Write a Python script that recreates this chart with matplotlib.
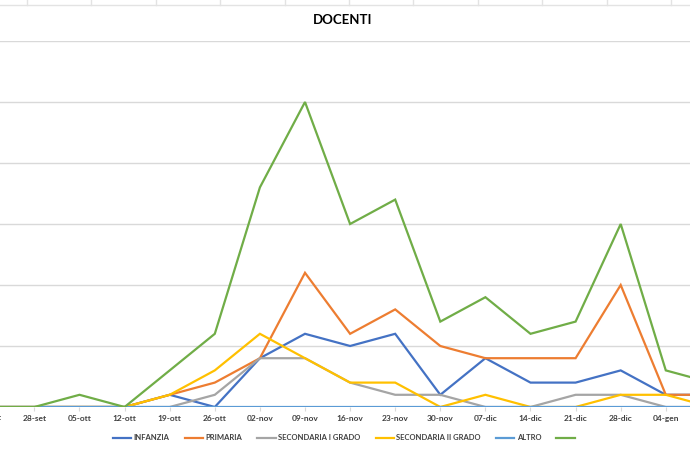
#!/usr/bin/env python3
"""
DOCENTI - weekly counts per school level, redrawn from an Excel line chart.

Usage:
    python plot.py
"""

import matplotlib

matplotlib.use("Agg")
import matplotlib.pyplot as plt
from matplotlib.lines import Line2D
from matplotlib.transforms import blended_transform_factory


# Data
WEEKS = [
    "21-set", "28-set", "05-ott", "12-ott", "19-ott", "26-ott", "02-nov",
    "09-nov", "16-nov", "23-nov", "30-nov", "07-dic", "14-dic", "21-dic",
    "28-dic", "04-gen", "11-gen",
]
INFANZIA = [0, 0, 0, 0, 1, 0, 4, 6, 5, 6, 1, 4, 2, 2, 3, 1, 1]
PRIMARIA = [0, 0, 0, 0, 1, 2, 4, 11, 6, 8, 5, 4, 4, 4, 10, 1, 1]
SEC_I_GRADO = [0, 0, 0, 0, 0, 1, 4, 4, 2, 1, 1, 0, 0, 1, 1, 0, 0]
SEC_II_GRADO = [0, 0, 0, 0, 1, 3, 6, 4, 2, 2, 0, 1, 0, 0, 1, 1, 0]
ALTRO = [0] * 17
TOTALE = [0, 0, 1, 0, 3, 6, 18, 25, 15, 17, 7, 9, 6, 7, 15, 3, 2]

SERIES = [
    ("INFANZIA", INFANZIA, "#4472C4"),
    ("PRIMARIA", PRIMARIA, "#ED7D31"),
    ("SECONDARIA I GRADO", SEC_I_GRADO, "#A5A5A5"),
    ("SECONDARIA II GRADO", SEC_II_GRADO, "#FFC000"),
    ("ALTRO", ALTRO, "#5B9BD5"),
    ("", TOTALE, "#70AD47"),
]

FONT = ["Lato", "DejaVu Sans"]
GRID = "#D9D9D9"
TEXT = "#404040"


def main():
    plt.rcParams["font.family"] = FONT

    fig = plt.figure(figsize=(6.9, 4.5), dpi=100)
    W, H = 690.0, 450.0

    # spreadsheet cells peeking above the chart
    fig.add_artist(Line2D([0, 1], [1 - 4.5 / H, 1 - 4.5 / H],
                          color="#E3E3E3", lw=1.0, transform=fig.transFigure))
    for k in range(11):
        xc = (27 + 64.4 * k) / W
        fig.add_artist(Line2D([xc, xc], [1, 1 - 4.5 / H],
                              color="#E3E3E3", lw=1.0, transform=fig.transFigure))

    # plot area is cut by the screenshot on both sides
    ax = fig.add_axes([0, 43 / H, 1, (407 - 41) / H])
    x = list(range(len(WEEKS)))

    handles = []
    labels = []
    for label, values, color in SERIES:
        (line,) = ax.plot(x, values, color=color, lw=1.6,
                          solid_joinstyle="miter", zorder=3)
        handles.append(line)
        labels.append(label)

    ax.set_xticks(x)
    ax.set_xticklabels(WEEKS, fontsize=6, fontweight="bold", color=TEXT)
    ax.tick_params(axis="x", length=3, color=GRID, pad=3)

    # set limits after the ticks, otherwise set_xticks widens them again
    ax.set_xlim(7 - 305 / 45.1, 7 + 385 / 45.1)
    ax.set_ylim(0, 30)
    ax.set_yticks(range(0, 31, 5))
    ax.yaxis.grid(True, color=GRID, lw=1.0)
    ax.set_axisbelow(True)
    for s in ax.spines.values():
        s.set_visible(False)
    ax.tick_params(axis="y", left=False, labelleft=False)

    # the tick label that falls half outside the left edge
    trans = blended_transform_factory(ax.transData, ax.transAxes)
    ax.text(0, -0.03, WEEKS[0], transform=trans, ha="center", va="center",
            fontsize=6, fontweight="bold", color=TEXT, clip_on=False)

    fig.text(343 / W, 1 - 20 / H, "DOCENTI", ha="center", va="center",
             fontsize=9.5, fontweight="bold", color="#000000")

    leg = fig.legend(handles, labels, loc="center",
                     bbox_to_anchor=(345 / W, 1 - 438 / H), ncol=6,
                     frameon=False, handlelength=2.4, handletextpad=0.3,
                     columnspacing=2.0, prop={"weight": "bold", "size": 5.5})
    for t in leg.get_texts():
        t.set_color(TEXT)

    fig.savefig("out.png", dpi=100)


if __name__ == "__main__":
    main()
